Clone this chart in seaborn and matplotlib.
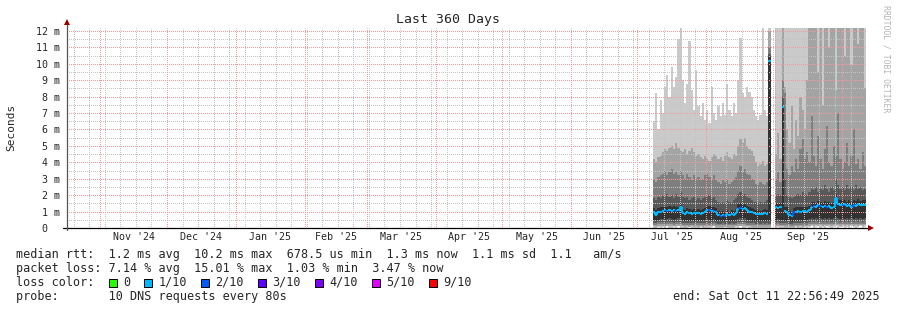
import numpy as np
import pandas as pd
import matplotlib
matplotlib.use("Agg")
import matplotlib.pyplot as plt
import matplotlib.dates as mdates
from matplotlib.patches import Rectangle
import seaborn as sns

nan = float("nan")

# ---------------- data ----------------
END = pd.Timestamp("2025-10-11 22:56:49")
SPAN_DAYS = 360
FIRST_BIN = pd.Timestamp("2025-07-07 22:57")   # first consolidated (1 day) bin

# 10 sorted pings per bin (ms); p1 = fastest ... p10 = slowest
ping10 = [6.5, 8.2, 6.0, 7.8, 7.0, 8.6, 9.3, 8.0, 9.8, 8.6, 9.2, 11.5, 12.2, 9.0, 7.6, 8.8, 11.4, 8.4, 7.2, 9.6, 7.4, 6.8, 7.6, 6.6,
          7.2, 6.4, 8.6, 7.0, 6.6, 7.4, 6.8, 7.6, 6.9, 8.8, 7.2, 6.8, 7.6, 7.0, 9.0, 11.6, 8.2, 8.0, 8.6, 8.3, 8.0, 7.2, 6.8, 6.6, 6.9, 12.3, 7.2, 6.8, 13.0,
          nan, nan,
          13.0, 13.0, 13.0, 13.0, 13.0, 13.0, 13.0, 13.0, 13.0, 13.0, 13.0, 13.0, 13.0, 13.0, 13.0,
          13.0, 13.0, 13.0, 13.0, 13.0, 13.0, 13.0, 13.0, 13.0, 13.0, 13.0, 13.0, 13.0, 13.0, 13.0, 13.0, 13.0, 13.0, 13.0, 13.0, 13.0, 13.0, 13.0, 13.0, 13.0, 13.0]
ping9 = [4.2, 4.0, 4.3, 4.4, 4.6, 4.8, 4.7, 4.9, 5.0, 4.8, 5.2, 4.9, 4.7, 4.6, 4.8, 4.5, 4.7, 4.9, 4.6, 4.4, 4.5, 4.3, 4.2, 4.4,
         4.2, 4.1, 4.3, 4.5, 4.4, 4.2, 4.3, 4.1, 4.4, 4.6, 4.3, 4.2, 4.5, 4.4, 5.0, 5.4, 5.2, 5.5, 5.0, 4.8, 4.7, 4.4, 4.0, 3.8, 3.9, 4.1, 3.8, 3.9, 12.0,
         nan, nan,
         4.5, 5.8, 4.2, 13.0, 8.6, 6.0, 5.2, 7.4, 4.8, 6.6, 5.6, 8.0, 7.2, 6.0, 9.0,
         13.0, 13.0, 13.0, 13.0, 9.5, 13.0, 7.5, 13.0, 13.0, 11.0, 13.0, 13.0, 8.4, 13.0, 13.0, 13.0, 10.5, 13.0, 13.0, 9.9, 13.0, 13.0, 11.2, 13.0, 13.0, 8.5]
ping8 = [3.0, 2.8, 3.1, 3.2, 3.3, 3.5, 3.2, 3.4, 3.6, 3.3, 3.4, 3.2, 3.5, 3.2, 3.0, 3.3, 3.1, 2.9, 3.2, 3.0, 3.1, 2.9, 3.0, 3.2,
         3.3, 3.1, 3.0, 3.2, 2.9, 2.8, 2.7, 2.9, 2.8, 3.0, 2.7, 2.8, 3.0, 3.1, 3.5, 3.8, 3.4, 3.6, 3.3, 3.2, 3.0, 2.9, 2.7, 2.6, 2.8, 2.7, 2.6, 2.8, 11.0,
         nan, nan,
         3.0, 3.4, 2.8, 9.0, 8.2, 3.6, 3.2, 3.8, 3.4, 4.2, 3.6, 4.8, 5.4, 4.2, 4.6,
         4.0, 6.8, 4.4, 3.8, 5.6, 4.2, 3.6, 4.8, 6.2, 4.0, 3.8, 5.0, 4.4, 7.0, 4.2, 3.6, 4.0, 5.2, 3.8, 4.4, 6.0, 3.9, 4.2, 3.6, 4.6, 3.8]
ping7 = [1.8, 1.7, 1.9, 1.8, 2.0, 1.9, 2.1, 1.9, 2.0, 1.8, 2.1, 1.9, 2.2, 1.9, 1.8, 1.9, 1.7, 1.8, 1.9, 1.7, 1.8, 1.7, 1.8, 1.9,
         1.9, 2.0, 1.8, 1.9, 1.7, 1.6, 1.5, 1.6, 1.5, 1.7, 1.6, 1.5, 1.7, 1.8, 2.1, 2.2, 2.0, 2.1, 1.9, 1.8, 1.7, 1.6, 1.6, 1.5, 1.6, 1.5, 1.6, 1.7, 10.6,
         nan, nan,
         2.0, 2.1, 2.0, 8.0, 3.0, 2.0, 1.9, 1.8, 1.9, 2.0, 2.1, 2.0, 2.2, 2.1, 2.0,
         2.2, 2.4, 2.3, 2.5, 2.2, 2.4, 2.3, 2.6, 2.4, 2.2, 2.5, 2.3, 3.0, 2.6, 2.4, 2.5, 2.3, 2.6, 2.4, 2.5, 2.3, 2.6, 2.4, 2.5, 2.3, 2.4]
ping6 = [1.2, 1.1, 1.2, 1.25, 1.3, 1.3, 1.25, 1.35, 1.3, 1.35, 1.3, 1.3, 1.5, 1.15, 1.1, 1.2, 1.15, 1.1, 1.15, 1.1, 1.15, 1.1, 1.15, 1.2,
         1.3, 1.35, 1.25, 1.3, 1.2, 1.05, 1.0, 1.05, 1.0, 1.1, 1.0, 1.1, 1.05, 1.15, 1.45, 1.5, 1.4, 1.45, 1.35, 1.25, 1.2, 1.15, 1.1, 1.1, 1.05, 1.1, 1.15, 1.1, 10.4,
         nan, nan,
         1.5, 1.45, 1.5, 7.5, 1.3, 1.25, 1.05, 1.0, 1.2, 1.25, 1.3, 1.25, 1.3, 1.25, 1.3,
         1.35, 1.6, 1.6, 1.55, 1.65, 1.6, 1.5, 1.65, 1.6, 1.6, 1.5, 1.6, 2.1, 1.75, 1.7, 1.65, 1.7, 1.6, 1.7, 1.6, 1.7, 1.65, 1.75, 1.65, 1.7, 1.7]
ping5 = [0.5, 0.45, 0.5, 0.55, 0.55, 0.5, 0.55, 0.6, 0.55, 0.5, 0.55, 0.6, 0.55, 0.5, 0.45, 0.5, 0.45, 0.5, 0.45, 0.5, 0.45, 0.5, 0.45, 0.5,
         0.55, 0.5, 0.5, 0.55, 0.45, 0.4, 0.4, 0.45, 0.4, 0.45, 0.4, 0.45, 0.4, 0.5, 0.55, 0.6, 0.55, 0.6, 0.5, 0.5, 0.45, 0.45, 0.4, 0.45, 0.4, 0.45, 0.4, 0.45, 0.4,
         nan, nan,
         0.5, 0.55, 0.5, 0.5, 0.45, 0.45, 0.4, 0.35, 0.45, 0.5, 0.45, 0.5, 0.45, 0.5, 0.5,
         0.55, 0.6, 0.55, 0.6, 0.55, 0.6, 0.55, 0.6, 0.55, 0.6, 0.55, 0.6, 0.65, 0.6, 0.55, 0.6, 0.55, 0.6, 0.55, 0.6, 0.55, 0.6, 0.55, 0.6, 0.55, 0.6]
ping4 = [0.32, 0.3, 0.34, 0.36, 0.35, 0.33, 0.36, 0.38, 0.35, 0.33, 0.36, 0.38, 0.35, 0.32, 0.3, 0.33, 0.3, 0.32, 0.3, 0.33, 0.3, 0.32, 0.3, 0.33,
         0.36, 0.33, 0.33, 0.36, 0.3, 0.27, 0.27, 0.3, 0.27, 0.3, 0.27, 0.3, 0.27, 0.33, 0.36, 0.38, 0.36, 0.38, 0.33, 0.33, 0.3, 0.3, 0.27, 0.3, 0.27, 0.3, 0.27, 0.3, 0.27,
         nan, nan,
         0.33, 0.36, 0.33, 0.33, 0.3, 0.3, 0.27, 0.24, 0.3, 0.33, 0.3, 0.33, 0.3, 0.33, 0.33,
         0.36, 0.4, 0.36, 0.4, 0.36, 0.4, 0.36, 0.4, 0.36, 0.4, 0.36, 0.4, 0.42, 0.4, 0.36, 0.4, 0.36, 0.4, 0.36, 0.4, 0.36, 0.4, 0.36, 0.4, 0.36, 0.4]
ping3 = [0.2, 0.18, 0.22, 0.24, 0.22, 0.2, 0.24, 0.25, 0.22, 0.2, 0.24, 0.25, 0.22, 0.2, 0.18, 0.2, 0.18, 0.2, 0.18, 0.2, 0.18, 0.2, 0.18, 0.2,
         0.24, 0.2, 0.2, 0.24, 0.18, 0.16, 0.16, 0.18, 0.16, 0.18, 0.16, 0.18, 0.16, 0.2, 0.24, 0.25, 0.24, 0.25, 0.2, 0.2, 0.18, 0.18, 0.16, 0.18, 0.16, 0.18, 0.16, 0.18, 0.16,
         nan, nan,
         0.2, 0.24, 0.2, 0.2, 0.18, 0.18, 0.16, 0.14, 0.18, 0.2, 0.18, 0.2, 0.18, 0.2, 0.2,
         0.24, 0.26, 0.24, 0.26, 0.24, 0.26, 0.24, 0.26, 0.24, 0.26, 0.24, 0.26, 0.28, 0.26, 0.24, 0.26, 0.24, 0.26, 0.24, 0.26, 0.24, 0.26, 0.24, 0.26, 0.24, 0.26]
ping2 = [0.1, 0.08, 0.12, 0.14, 0.12, 0.1, 0.14, 0.15, 0.12, 0.1, 0.14, 0.15, 0.12, 0.1, 0.08, 0.1, 0.08, 0.1, 0.08, 0.1, 0.08, 0.1, 0.08, 0.1,
         0.14, 0.1, 0.1, 0.14, 0.08, 0.06, 0.06, 0.08, 0.06, 0.08, 0.06, 0.08, 0.06, 0.1, 0.14, 0.15, 0.14, 0.15, 0.1, 0.1, 0.08, 0.08, 0.06, 0.08, 0.06, 0.08, 0.06, 0.08, 0.06,
         nan, nan,
         0.1, 0.14, 0.1, 0.1, 0.08, 0.08, 0.06, 0.05, 0.08, 0.1, 0.08, 0.1, 0.08, 0.1, 0.1,
         0.14, 0.16, 0.14, 0.16, 0.14, 0.16, 0.14, 0.16, 0.14, 0.16, 0.14, 0.16, 0.18, 0.16, 0.14, 0.16, 0.14, 0.16, 0.14, 0.16, 0.14, 0.16, 0.14, 0.16, 0.14, 0.16]
ping1 = [0.03, 0.02, 0.08, 0.03, 0.04, 0.02, 0.1, 0.03, 0.02, 0.04, 0.03, 0.12, 0.03, 0.02, 0.03, 0.02, 0.06, 0.03, 0.02, 0.03, 0.02, 0.09, 0.03, 0.02,
         0.03, 0.02, 0.04, 0.1, 0.02, 0.02, 0.03, 0.02, 0.05, 0.02, 0.03, 0.02, 0.02, 0.04, 0.03, 0.12, 0.03, 0.02, 0.04, 0.03, 0.02, 0.03, 0.02, 0.02, 0.03, 0.02, 0.02, 0.03, 0.02,
         nan, nan,
         0.03, 0.08, 0.03, 0.02, 0.03, 0.02, 0.02, 0.02, 0.03, 0.06, 0.02, 0.03, 0.02, 0.04, 0.03,
         0.04, 0.1, 0.03, 0.04, 0.12, 0.03, 0.04, 0.03, 0.1, 0.04, 0.03, 0.04, 0.14, 0.03, 0.04, 0.12, 0.03, 0.04, 0.03, 0.1, 0.04, 0.03, 0.04, 0.12, 0.03, 0.04]
median = [0.95, 0.82, 0.97, 1.00, 1.05, 1.08, 1.02, 1.10, 1.06, 1.12, 1.04, 1.08, 1.28, 0.92, 0.88, 0.95, 0.90, 0.86, 0.93, 0.89, 0.94, 0.87, 0.91, 0.96,
          1.08, 1.12, 1.02, 1.06, 0.98, 0.82, 0.76, 0.80, 0.74, 0.84, 0.78, 0.86, 0.80, 0.90, 1.18, 1.22, 1.15, 1.20, 1.10, 1.00, 0.95, 0.90, 0.86, 0.88, 0.84, 0.86, 0.90, 0.88, 10.2,
          nan, nan,
          1.25, 1.22, 1.28, 7.36, 1.02, 0.98, 0.80, 0.74, 0.95, 1.00, 1.04, 0.98, 1.05, 1.02, 1.00,
          1.08, 1.30, 1.35, 1.28, 1.38, 1.32, 1.25, 1.36, 1.30, 1.34, 1.20, 1.30, 1.80, 1.45, 1.40, 1.38, 1.44, 1.35, 1.42, 1.30, 1.40, 1.36, 1.45, 1.38, 1.42, 1.40]
loss_tenths = [1, 1, 1, 1, 1, 1, 2, 1, 1, 1, 2, 1, 1, 1, 1, 1, 1, 1, 1, 1, 1, 1, 1, 1,
               1, 2, 1, 2, 1, 1, 2, 1, 2, 1, 1, 1, 1, 1, 1, 2, 1, 1, 1, 1, 1, 1, 1, 1, 1, 1, 1, 1, 1,
               0, 0,
               1, 1, 1, 1, 1, 1, 1, 1, 2, 1, 1, 1, 1, 1, 1,
               1, 1, 2, 1, 1, 2, 1, 1, 2, 1, 1, 1, 1, 1, 1, 2, 1, 1, 1, 1, 2, 1, 1, 1, 1, 1]

month_labels = ["Nov '24", "Dec '24", "Jan '25", "Feb '25", "Mar '25", "Apr '25",
                "May '25", "Jun '25", "Jul '25", "Aug '25", "Sep '25"]
y_ticks = [0, 1, 2, 3, 4, 5, 6, 7, 8, 9, 10, 11, 12]
y_tick_labels = ["0  ", "1 m", "2 m", "3 m", "4 m", "5 m", "6 m", "7 m", "8 m",
                 "9 m", "10 m", "11 m", "12 m"]
loss_keys = [0, 1, 2, 3, 4, 5, 9]
loss_names = ["0", "1/10", "2/10", "3/10", "4/10", "5/10", "9/10"]
loss_colors = ["#26ff00", "#00b8ff", "#0059ff", "#5e00ff", "#7e00ff", "#dd00ff", "#ff0000"]
smoke_colors = ["#cacaca", "#a4a4a4", "#7e7e7e", "#585858", "#323232"]

stats_rtt = "median rtt:  1.2 ms avg  10.2 ms max  678.5 us min  1.3 ms now  1.1 ms sd  1.1   am/s"
stats_loss = "packet loss: 7.14 % avg  15.01 % max  1.03 % min  3.47 % now"
probe_line = "probe:       10 DNS requests every 80s"
end_line = "end: Sat Oct 11 22:56:49 2025"

# ---------------- style ----------------
sns.set_theme(style="white")
MONO = "DejaVu Sans Mono"
plt.rcParams["font.family"] = [MONO, "DejaVu Sans"]

W, H = 897, 310
fig = plt.figure(figsize=(W / 100, H / 100), dpi=100)
fig.patch.set_facecolor("white")
L, R, T, B = 67, 866, 28, 228
ax = fig.add_axes([L / W, 1 - B / H, (R - L) / W, (B - T) / H])
ax.set_facecolor("white")
for s in ax.spines.values():
    s.set_visible(False)

start = END - pd.Timedelta(days=SPAN_DAYS)
x0, x1 = mdates.date2num(start.to_pydatetime()), mdates.date2num(END.to_pydatetime())
ax.set_xlim(x0, x1)
YMAX = 12.18
ax.set_ylim(0, YMAX)

# ---------------- smoke ----------------
dates = pd.date_range(FIRST_BIN, periods=len(median), freq="D")
xd = mdates.date2num(dates.to_pydatetime())
pings = np.array([ping1, ping2, ping3, ping4, ping5, ping6, ping7, ping8, ping9, ping10], dtype=float)
valid = ~np.isnan(pings[9])
for k, col in enumerate(smoke_colors):
    lo = pings[k][valid]
    hi = pings[9 - k][valid]
    ax.bar(xd[valid], hi - lo, bottom=lo, width=1.0, align="edge", color=col,
           linewidth=0, antialiased=False, zorder=1)

# ---------------- grid (dotted, pixel-snapped) ----------------
minor_col = "#c4c4c4"
major_col = "#f29a9a"
dots = (0.5, (1, 1))
gkw = dict(lw=0.72, ls=dots, zorder=2, snap=True, antialiased=True)
for d in pd.date_range(start.normalize(), END, freq="W-SUN"):
    ax.axvline(mdates.date2num(d.to_pydatetime()), color=minor_col, **gkw)
for v in np.arange(0.5, YMAX, 1.0):
    ax.axhline(v, color=minor_col, **gkw)
for d in pd.date_range(start.normalize(), END, freq="MS"):
    ax.axvline(mdates.date2num(d.to_pydatetime()), color=major_col, **gkw)
for v in y_ticks[1:]:
    ax.axhline(v, color=major_col, **gkw)

# ---------------- median line coloured by loss ----------------
med = np.array(median, dtype=float)
loss = np.array(loss_tenths)
cmap = dict(zip(loss_keys, loss_colors))
mv = ~np.isnan(med)
ax.hlines(med[mv], xd[mv], xd[mv] + 1.0, colors=[cmap[l] for l in loss[mv]],
          linewidth=1.5, zorder=4, capstyle="butt")
conn = [i for i in range(len(med) - 1)
        if mv[i] and mv[i + 1] and abs(med[i + 1] - med[i]) < 1.0]
ax.vlines(xd[np.array(conn) + 1], med[conn], med[np.array(conn) + 1],
          colors=[cmap[loss[i + 1]] for i in conn], linewidth=1.5, zorder=4)

# ---------------- axes, ticks ----------------
month_starts = pd.date_range("2024-11-01", periods=len(month_labels) + 1, freq="MS")
mids = [mdates.date2num((month_starts[i] + (month_starts[i + 1] - month_starts[i]) / 2).to_pydatetime())
        for i in range(len(month_labels))]
ax.set_xticks(mids)
ax.set_xticklabels(month_labels, fontsize=7.2, family=MONO)
ax.tick_params(axis="x", length=0, pad=3.2)
ax.set_yticks(y_ticks)
ax.set_yticklabels(y_tick_labels, fontsize=7.2, family=MONO)
ax.tick_params(axis="y", length=2.5, width=0.8, color="#777777", direction="out", pad=2.6)
ax.grid(False)

wpx = R - L
hpx = B - T
ax.plot([-4 / wpx, 1 + 3 / wpx], [0, 0], transform=ax.transAxes, color="black",
        lw=0.9, clip_on=False, zorder=6)
ax.plot([0, 0], [-2 / hpx, 1 + 4 / hpx], transform=ax.transAxes, color="#555555",
        lw=0.9, clip_on=False, zorder=6)
ax.plot([1 + 5 / wpx], [0], transform=ax.transAxes, marker=">", ms=4, color="#990000",
        clip_on=False, zorder=7, mew=0)
ax.plot([0], [1 + 6 / hpx], transform=ax.transAxes, marker="^", ms=4, color="#990000",
        clip_on=False, zorder=7, mew=0)

# ---------------- texts ----------------
def fx(px):
    return px / W


def fy(py):
    return 1 - py / H


fig.text(fx(448), fy(19), "Last 360 Days", ha="center", va="center", fontsize=9.5, family=MONO)
fig.text(fx(11), fy(127), "Seconds", ha="center", va="center", rotation=90, fontsize=8, family=MONO)
fig.text(fx(886), fy(59), "RRDTOOL / TOBI OETIKER", ha="center", va="center", rotation=-90,
         fontsize=5.9, family=MONO, color="#b4b4b4")

LX = 16
CW = 7.12
FS = 8.5
rows = [254.3, 268.3, 282.3, 296.3]
fig.text(fx(LX), fy(rows[0]), stats_rtt, ha="left", va="center", fontsize=FS, family=MONO)
fig.text(fx(LX), fy(rows[1]), stats_loss, ha="left", va="center", fontsize=FS, family=MONO)
fig.text(fx(LX), fy(rows[2]), "loss color:", ha="left", va="center", fontsize=FS, family=MONO)
col = 13
for name, c in zip(loss_names, loss_colors):
    sx = LX + col * CW
    fig.patches.append(Rectangle((fx(sx), fy(286.8)), 8.3 / W, 8.3 / H, transform=fig.transFigure,
                                 facecolor=c, edgecolor="black", linewidth=0.7, figure=fig))
    fig.text(fx(LX + (col + 2) * CW), fy(rows[2]), name, ha="left", va="center", fontsize=FS, family=MONO)
    col += 2 + len(name) + 2
fig.text(fx(LX), fy(rows[3]), probe_line, ha="left", va="center", fontsize=FS, family=MONO)
fig.text(fx(880), fy(rows[3]), end_line, ha="right", va="center", fontsize=FS, family=MONO)

fig.savefig("out.png", dpi=100, facecolor="white")
